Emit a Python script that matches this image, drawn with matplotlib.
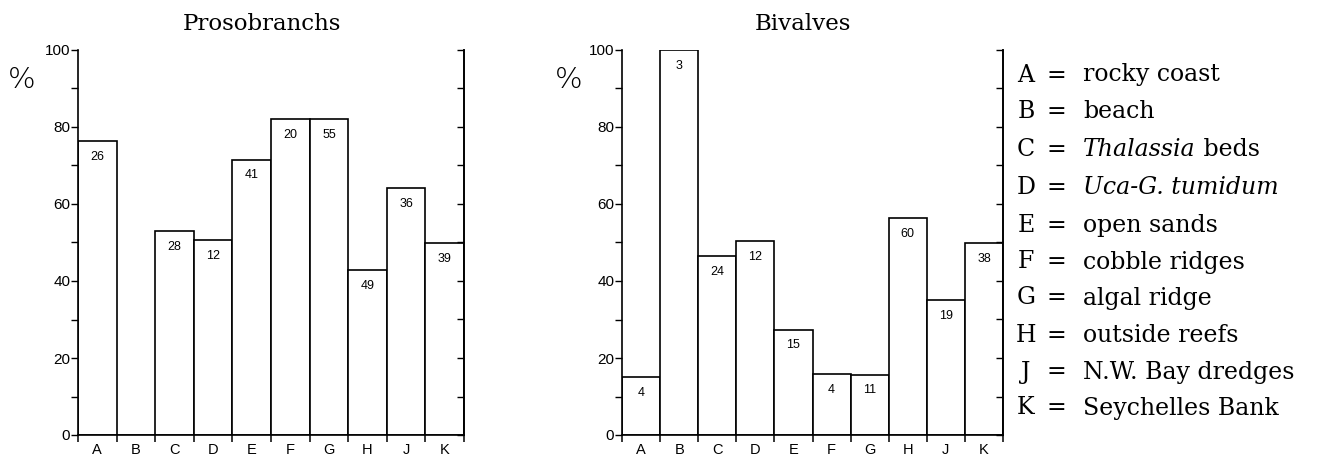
import matplotlib
matplotlib.use("Agg")
import matplotlib.pyplot as plt
import numpy as np

categories = ["A", "B", "C", "D", "E", "F", "G", "H", "J", "K"]
proso_pct = [76.3, 0, 53.0, 50.7, 71.5, 82.1, 82.0, 42.9, 64.2, 49.8]
proso_n = ["26", "", "28", "12", "41", "20", "55", "49", "36", "39"]
biv_pct = [15.1, 100.0, 46.5, 50.3, 27.4, 15.8, 15.7, 56.3, 35.0, 49.9]
biv_n = ["4", "3", "24", "12", "15", "4", "11", "60", "19", "38"]
yticks_major = [0, 20, 40, 60, 80, 100]
legend_letters = categories
legend_desc = [
    [("rocky coast", "normal")],
    [("beach", "normal")],
    [("Thalassia", "italic"), (" beds", "normal")],
    [("Uca-G. tumidum", "italic")],
    [("open sands", "normal")],
    [("cobble ridges", "normal")],
    [("algal ridge", "normal")],
    [("outside reefs", "normal")],
    [("N.W. Bay dredges", "normal")],
    [("Seychelles Bank", "normal")],
]

SANS = ["Liberation Sans", "DejaVu Sans"]
SERIF = ["DejaVu Serif"]

W, H = 1320, 459
fig = plt.figure(figsize=(W / 100, H / 100), dpi=100)


def px_axes(x0, x1, y_top, y_bot):
    return fig.add_axes([x0 / W, 1 - y_bot / H, (x1 - x0) / W, (y_bot - y_top) / H])


def draw_panel(ax, vals, nums, title, title_x):
    n = len(vals)
    x = np.arange(n)
    ax.bar(x, vals, width=1.0, align="edge", facecolor="white",
           edgecolor="black", linewidth=1.2, zorder=2)
    ax.set_xlim(0, n)
    ax.set_ylim(0, 100)
    for xi, v, s in zip(x, vals, nums):
        if s:
            ax.annotate(s, (xi + 0.5, v), xytext=(0, -7), textcoords="offset points",
                        ha="center", va="top", fontsize=9, family=SANS)
    ax.spines["top"].set_visible(False)
    for sp in ["left", "bottom", "right"]:
        ax.spines[sp].set_linewidth(1.2)
    ax.set_yticks(yticks_major)
    ax.set_yticklabels([str(t) for t in yticks_major], family=SANS, fontsize=11)
    ax.set_yticks(np.arange(10, 100, 20), minor=True)
    ax.tick_params(axis="y", which="both", direction="out", length=5, width=1,
                   pad=0.5, left=True, right=False)
    ax2 = ax.twinx()
    ax2.set_ylim(0, 100)
    ax2.set_yticks(np.arange(0, 101, 10))
    ax2.set_yticklabels([])
    ax2.tick_params(axis="y", direction="in", length=5, width=1)
    for sp in ["top", "left", "bottom"]:
        ax2.spines[sp].set_visible(False)
    ax2.spines["right"].set_linewidth(1.2)
    ax.set_xticks(np.arange(0, n + 1))
    ax.set_xticklabels([])
    ax.tick_params(axis="x", which="major", direction="out", length=5, width=1.1)
    ax.set_xticks(x + 0.5, minor=True)
    ax.set_xticklabels(categories, minor=True, family=SANS, fontsize=10.5)
    ax.tick_params(axis="x", which="minor", length=0, pad=6)
    fig.text(title_x / W, 1 - 24 / H, title, ha="center", va="center",
             family=SERIF, fontsize=16.5)


ax1 = px_axes(78, 464, 50, 435)
draw_panel(ax1, proso_pct, proso_n, "Prosobranchs", 262)
ax2 = px_axes(622, 1003, 50, 435)
draw_panel(ax2, biv_pct, biv_n, "Bivalves", 803)

for xp in (22, 569):
    fig.text(xp / W, 1 - 80 / H, "%", ha="center", va="center",
             family=["DejaVu Sans"], fontsize=21, fontweight="light")

fig.canvas.draw()
renderer = fig.canvas.get_renderer()
row_y = [75, 112, 150, 188, 225, 262, 298, 335, 372, 408]
for letter, parts, yp in zip(legend_letters, legend_desc, row_y):
    yf = 1 - yp / H
    fig.text(1026 / W, yf, letter, ha="center", va="center", family=SERIF, fontsize=17)
    fig.text(1056 / W, yf, "=", ha="center", va="center", family=SERIF, fontsize=17)
    xcur = 1083
    for txt, style in parts:
        t = fig.text(xcur / W, yf, txt, ha="left", va="center", family=SERIF,
                     fontsize=17, style=style)
        bb = t.get_window_extent(renderer=renderer)
        xcur = bb.x1

fig.savefig("out.png", dpi=100)
